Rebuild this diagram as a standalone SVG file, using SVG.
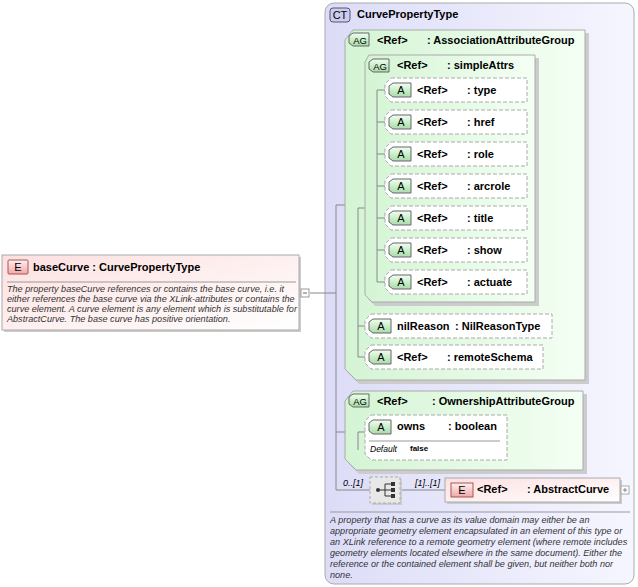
<svg xmlns="http://www.w3.org/2000/svg" width="638" height="587" viewBox="0 0 638 587">
<defs>
<linearGradient id="gE" x1="0" y1="0" x2="1" y2="1"><stop offset="0" stop-color="#fde0e0"/><stop offset="1" stop-color="#ffffff"/></linearGradient>
<linearGradient id="gCT" x1="0" y1="0" x2="1" y2="0"><stop offset="0" stop-color="#dcdcf8"/><stop offset="1" stop-color="#f6f6ff"/></linearGradient>
<linearGradient id="gAG" x1="0" y1="0" x2="1" y2="0"><stop offset="0" stop-color="#d4f4d4"/><stop offset="1" stop-color="#f4fff4"/></linearGradient>
<linearGradient id="gB" x1="0" y1="0" x2="0" y2="1"><stop offset="0" stop-color="#f0fff0"/><stop offset="1" stop-color="#a8dca8"/></linearGradient>
<linearGradient id="gBE" x1="0" y1="0" x2="0" y2="1"><stop offset="0" stop-color="#fff0f0"/><stop offset="1" stop-color="#f0a8a8"/></linearGradient>
</defs>
<style>
text{font-family:"Liberation Sans",Arial,sans-serif;fill:#000}
.b{font-size:11px;font-weight:bold}
.d{font-size:9.1px;font-style:italic;fill:#333}
.bd{font-size:11px}
.ln{stroke:#888;fill:none}
.attr{fill:#fff;stroke:#aaa;stroke-dasharray:4,2}
.agb{fill:url(#gB);stroke:#666}
.sh{fill:#ccc}
</style>
<g id="baseCurve">
<rect x="4" y="257" width="297" height="75" class="sh"/>
<rect x="2" y="255" width="297" height="75" fill="url(#gE)" stroke="#aaa"/>
<rect x="8" y="260" width="20" height="14" rx="1" fill="url(#gBE)" stroke="#a55"/>
<text x="18" y="271" class="bd" text-anchor="middle">E</text>
<text x="33" y="271" class="b">baseCurve : CurvePropertyType</text>
<line x1="7" y1="282" x2="296" y2="282" stroke="#999"/>
<text class="d"><tspan x="7" y="292">The property baseCurve references or contains the base curve, i.e. it</tspan><tspan x="7" y="302">either references the base curve via the XLink-attributes or contains the</tspan><tspan x="7" y="312">curve element. A curve element is any element which is substitutable for</tspan><tspan x="7" y="322">AbstractCurve. The base curve has positive orientation.</tspan></text>
<rect x="301" y="289" width="8" height="8" fill="#fff" stroke="#999"/><line x1="303" y1="293" x2="307" y2="293" stroke="#666"/>
</g>
<g id="CurvePropertyType">
<rect x="325" y="3" width="309" height="581" rx="9" fill="url(#gCT)" stroke="#aaa"/>
<rect x="330" y="8" width="20" height="14" rx="3" fill="#ccccee" stroke="#557"/>
<text x="340" y="19" class="bd" text-anchor="middle">CT</text>
<text x="357" y="18" class="b">CurvePropertyType</text>
<line x1="330" y1="512" x2="630" y2="512" stroke="#999"/>
<text class="d"><tspan x="330" y="523">A property that has a curve as its value domain may either be an</tspan><tspan x="330" y="534">appropriate geometry element encapsulated in an element of this type or</tspan><tspan x="330" y="545">an XLink reference to a remote geometry element (where remote includes</tspan><tspan x="330" y="556">geometry elements located elsewhere in the same document). Either the</tspan><tspan x="330" y="567">reference or the contained element shall be given, but neither both nor</tspan><tspan x="330" y="578">none.</tspan></text>
</g>
<g id="connectors">
<path class="ln" d="M310 293H336M336 205V490M336 205H345M336 432H345M336 490H370M400 490H445"/>
</g>
<g id="AssociationAttributeGroup">
<path d="M356 33H589V384H359L348 373V43Z" class="sh"/>
<path d="M353 30H585V380H356L345 369V40Z" fill="url(#gAG)" stroke="#aaa"/>
<path d="M349 36L353 33H369V46H353L349 43Z" class="agb"/>
<text x="360" y="44" font-size="9.5" text-anchor="middle">AG</text>
<text x="377" y="44" class="b">&lt;Ref&gt;</text><text x="427" y="44" class="b">: AssociationAttributeGroup</text>
<path class="ln" d="M358 208V357M358 208H365M358 326H365M358 357H365"/>
</g>
<g id="simpleAttrs">
<path d="M372 58H539V306H375L368 299V65Z" class="sh"/>
<path d="M369 55H535V302H372L365 295V62Z" fill="url(#gAG)" stroke="#aaa"/>
<path d="M369 62L373 59H389V72H373L369 69Z" class="agb"/>
<text x="380" y="70" font-size="9.5" text-anchor="middle">AG</text>
<text x="397" y="69" class="b">&lt;Ref&gt;</text><text x="447" y="69" class="b">: simpleAttrs</text>
<path class="ln" d="M377 90V282M377 90H385M377 122H385M377 154H385M377 186H385M377 218H385M377 250H385M377 282H385"/>
</g>
<g id="attrs">
<g id="type"><path d="M391 78H527V102H391L385 96V84Z" class="attr"/><path d="M389 86L393 83H411V97H393L389 94Z" class="agb"/><text x="401" y="94" class="bd" text-anchor="middle">A</text><text x="417" y="94" class="b">&lt;Ref&gt;</text><text x="467" y="94" class="b">: type</text></g>
<g id="href"><path d="M391 110H527V134H391L385 128V116Z" class="attr"/><path d="M389 118L393 115H411V129H393L389 126Z" class="agb"/><text x="401" y="126" class="bd" text-anchor="middle">A</text><text x="417" y="126" class="b">&lt;Ref&gt;</text><text x="467" y="126" class="b">: href</text></g>
<g id="role"><path d="M391 142H527V166H391L385 160V148Z" class="attr"/><path d="M389 150L393 147H411V161H393L389 158Z" class="agb"/><text x="401" y="158" class="bd" text-anchor="middle">A</text><text x="417" y="158" class="b">&lt;Ref&gt;</text><text x="467" y="158" class="b">: role</text></g>
<g id="arcrole"><path d="M391 174H527V198H391L385 192V180Z" class="attr"/><path d="M389 182L393 179H411V193H393L389 190Z" class="agb"/><text x="401" y="190" class="bd" text-anchor="middle">A</text><text x="417" y="190" class="b">&lt;Ref&gt;</text><text x="467" y="190" class="b">: arcrole</text></g>
<g id="title"><path d="M391 206H527V230H391L385 224V212Z" class="attr"/><path d="M389 214L393 211H411V225H393L389 222Z" class="agb"/><text x="401" y="222" class="bd" text-anchor="middle">A</text><text x="417" y="222" class="b">&lt;Ref&gt;</text><text x="467" y="222" class="b">: title</text></g>
<g id="show"><path d="M391 238H527V262H391L385 256V244Z" class="attr"/><path d="M389 246L393 243H411V257H393L389 254Z" class="agb"/><text x="401" y="254" class="bd" text-anchor="middle">A</text><text x="417" y="254" class="b">&lt;Ref&gt;</text><text x="467" y="254" class="b">: show</text></g>
<g id="actuate"><path d="M391 270H527V294H391L385 288V276Z" class="attr"/><path d="M389 278L393 275H411V289H393L389 286Z" class="agb"/><text x="401" y="286" class="bd" text-anchor="middle">A</text><text x="417" y="286" class="b">&lt;Ref&gt;</text><text x="467" y="286" class="b">: actuate</text></g>
<g id="nilReason"><path d="M371 314H552V338H371L365 332V320Z" class="attr"/><path d="M369 322L373 319H391V333H373L369 330Z" class="agb"/><text x="381" y="330" class="bd" text-anchor="middle">A</text><text x="397" y="330" class="b">nilReason</text><text x="455" y="330" class="b">: NilReasonType</text></g>
<g id="remoteSchema"><path d="M371 345H543V369H371L365 363V351Z" class="attr"/><path d="M369 353L373 350H391V364H373L369 361Z" class="agb"/><text x="381" y="361" class="bd" text-anchor="middle">A</text><text x="397" y="361" class="b">&lt;Ref&gt;</text><text x="447" y="361" class="b">: remoteSchema</text></g>
</g>
<g id="OwnershipAttributeGroup">
<path d="M356 394H587V474H359L348 463V404Z" class="sh"/>
<path d="M353 391H583V470H356L345 459V401Z" fill="url(#gAG)" stroke="#aaa"/>
<path d="M349 397L353 394H369V407H353L349 404Z" class="agb"/>
<text x="360" y="405" font-size="9.5" text-anchor="middle">AG</text>
<text x="377" y="405" class="b">&lt;Ref&gt;</text><text x="432" y="405" class="b">: OwnershipAttributeGroup</text>
<path class="ln" d="M358 432V450M358 432H365"/>
<g id="owns"><path d="M371 415H507V460H371L365 454V421Z" class="attr"/><path d="M369 423L373 420H391V434H373L369 431Z" class="agb"/><text x="381" y="431" class="bd" text-anchor="middle">A</text><text x="397" y="430" class="b">owns</text><text x="448" y="430" class="b">: boolean</text>
<line x1="369" y1="441" x2="500" y2="441" stroke="#999"/>
<text x="370" y="452" font-size="8.5" font-style="italic">Default</text><text x="410" y="451" font-size="8" font-weight="bold">false</text></g>
</g>
<g id="choice">
<text x="343" y="486" font-size="9" font-style="italic">0..[1]</text>
<rect x="372" y="479" width="30" height="26" class="sh"/>
<rect x="370" y="477" width="30" height="26" fill="#e8e8e8" stroke="#aaa" stroke-dasharray="3,2"/>
<path d="M378 490H385M385 484V496M385 484H392M385 490H392M385 496H392" stroke="#333" fill="none"/>
<circle cx="378" cy="490" r="2" fill="#333"/><rect x="391" y="482" width="4" height="4" fill="#333"/><rect x="391" y="488" width="4" height="4" fill="#333"/><rect x="391" y="494" width="4" height="4" fill="#333"/>
<text x="415" y="486" font-size="9" font-style="italic">[1]..[1]</text>
</g>
<g id="AbstractCurve">
<rect x="447" y="480" width="175" height="24" class="sh"/>
<rect x="445" y="478" width="175" height="24" fill="url(#gE)" stroke="#aaa"/>
<rect x="451" y="483" width="22" height="14" fill="url(#gBE)" stroke="#a55"/>
<text x="462" y="494" class="bd" text-anchor="middle">E</text>
<text x="477" y="493" class="b">&lt;Ref&gt;</text><text x="527" y="493" class="b">: AbstractCurve</text>
<rect x="621" y="486" width="8" height="8" fill="#fff" stroke="#aaa"/><path d="M623 490H627M625 488V492" stroke="#888"/>
</g>
</svg>
